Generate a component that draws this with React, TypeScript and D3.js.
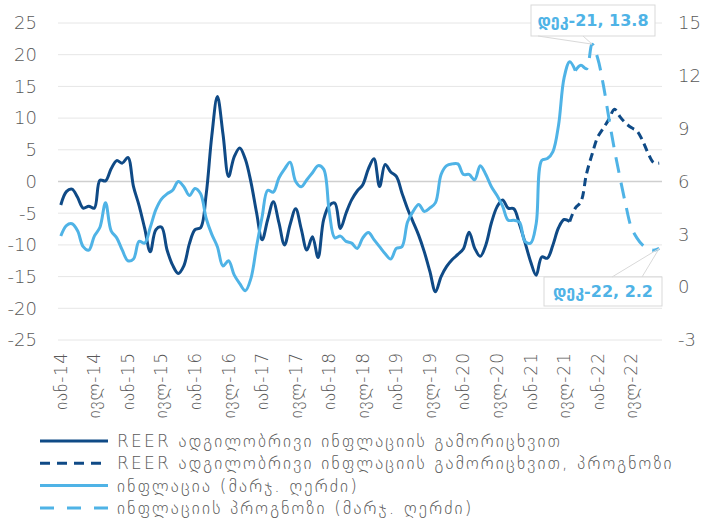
import React from 'react';
import * as d3 from 'd3';

const width = 706;
const height = 521;

const monthNames = ['იან', 'თებ', 'მარ', 'აპრ', 'მაი', 'ივნ', 'ივლ', 'აგვ', 'სექ', 'ოქტ', 'ნოე', 'დეკ'];
const years = [14, 15, 16, 17, 18, 19, 20, 21, 22];
const categories = years.flatMap((y) => monthNames.map((m) => `${m}-${y}`));

// REER, excluding local inflation (left axis), Jan-14 .. Aug-21
const reerActual = [
  -3.7, -1.6, -1.2, -2.5, -4.2, -3.9, -4.2, 0.2, 0.1, 2.0,
  3.3, 2.9, 3.8, -0.8, -3.8, -7.4, -11.1, -7.6, -7.2, -10.8,
  -13.2, -14.5, -13.3, -9.8, -7.6, -7.3, -2.0, 7.2, 13.4, 7.5,
  0.8, 3.9, 5.3, 3.5, -0.1, -4.9, -9.2, -6.0, -3.2, -6.5,
  -10.0, -6.8, -4.3, -7.5, -10.8, -8.7, -12.0, -6.0, -3.8, -3.4,
  -7.4, -5.0, -2.9, -1.5, -0.5, 2.0, 3.6, -0.8, 2.7, 1.5,
  0.8, -1.8, -4.3, -6.4, -8.5, -11.1, -14.2, -17.4, -15.0, -13.4,
  -12.3, -11.5, -10.6, -8.0, -10.5, -11.8, -10.0, -6.5, -4.0, -2.9,
  -4.2, -4.3, -6.7, -9.6, -12.6, -14.8, -11.9, -12.1, -10.0, -7.3,
  -6.0, -6.3,
];
// REER forecast, Aug-21 .. Dec-22
const reerForecast = [
  -6.3, -4.2, -3.2, 1.2, 4.3, 7.0, 8.4, 9.8, 11.4, 10.2,
  9.2, 8.5, 8.0, 6.5, 4.5, 3.0, 2.9,
];
// inflation (right axis), Jan-14 .. Sep-21
const inflActual = [
  2.9, 3.5, 3.6, 3.2, 2.3, 2.1, 2.9, 3.4, 4.8, 3.2,
  2.8, 2.1, 1.5, 1.6, 2.6, 2.5, 3.4, 4.4, 5.0, 5.3,
  5.5, 6.0, 5.7, 5.2, 5.6, 5.3, 3.9, 3.0, 2.3, 1.2,
  1.5, 0.7, 0.2, -0.2, 0.5, 2.3, 4.0, 5.5, 5.4, 6.2,
  6.7, 7.1, 6.0, 5.7, 6.1, 6.5, 6.9, 6.7, 4.3, 2.8,
  2.9, 2.6, 2.5, 2.2, 2.8, 3.1, 2.7, 2.3, 1.9, 1.6,
  2.2, 2.3, 3.7, 4.3, 4.7, 4.3, 4.5, 4.8, 6.4, 6.9,
  7.0, 7.0, 6.4, 6.4, 6.1, 6.9, 6.4, 5.7, 5.2, 4.6,
  3.8, 3.8, 3.7, 2.6, 2.5, 3.6, 7.2, 7.3, 7.7, 9.2,
  11.9, 12.8, 12.3,
];
// inflation forecast, Sep-21 .. Dec-22
const inflForecast = [
  12.3, 12.6, 12.4, 13.8, 13.0, 11.5, 9.6, 7.8, 6.2, 4.7,
  3.4, 2.8, 2.4, 2.2, 2.1, 2.2,
];

const leftTicks = [25, 20, 15, 10, 5, 0, -5, -10, -15, -20, -25];
const rightTicks = [15, 12, 9, 6, 3, 0, -3];
const legendLabels = [
  'REER ადგილობრივი ინფლაციის გამორიცხვით',
  'REER ადგილობრივი ინფლაციის გამორიცხვით, პროგნოზი',
  'ინფლაცია (მარჯ. ღერძი)',
  'ინფლაციის პროგნოზი (მარჯ. ღერძი)',
];
const callouts = [
  { cat: 'დეკ-21', value: 13.8 },
  { cat: 'დეკ-22', value: 2.2 },
];

const darkBlue = '#0f4a86';
const lightBlue = '#4fb3e6';
const textGray = '#595959';
const font = "'DejaVu Sans', sans-serif";

export default function App() {
  const x = d3.scaleBand<string>().domain(categories).range([58, 662]);
  const cx = (i: number) => (x(categories[i]) as number) + x.bandwidth() / 2;
  const yL = d3.scaleLinear().domain([-25, 25]).range([340, 23]);
  const yR = d3.scaleLinear().domain([-3, 15]).range([340, 23]);

  const lineFor = (scale: d3.ScaleLinear<number, number>, offset: number) =>
    d3
      .line<number>()
      .x((_, i) => cx(i + offset))
      .y((d) => scale(d))
      .curve(d3.curveCatmullRom.alpha(0.5));

  const reerStart = categories.indexOf('აგვ-21');
  const inflStart = categories.indexOf('სექ-21');

  const series = [
    { d: lineFor(yL, 0)(reerActual), color: darkBlue, dash: undefined },
    { d: lineFor(yL, reerStart)(reerForecast), color: darkBlue, dash: '8,5' },
    { d: lineFor(yR, 0)(inflActual), color: lightBlue, dash: undefined },
    { d: lineFor(yR, inflStart)(inflForecast), color: lightBlue, dash: '16,10' },
  ];
  const legendDash = [undefined, '10,7', undefined, '14,13'];
  const legendColor = [darkBlue, darkBlue, lightBlue, lightBlue];

  const xLabels = categories
    .map((c, i) => ({ c, i }))
    .filter(({ c }) => c.startsWith('იან') || c.startsWith('ივლ'));

  // callout boxes with a wedge pointing at the labelled value
  const boxes = [
    { x: 531, y: 5, w: 124, h: 31, b1: 538, b2: 583, top: false },
    { x: 544, y: 277, w: 118, h: 29, b1: 612, b2: 642, top: true },
  ];

  return (
    <svg
      width={width}
      height={height}
      style={{ position: 'absolute', left: 0, top: 0, background: '#fff' }}
      fontFamily={font}
    >
      {leftTicks.map((t) => (
        <line
          key={'g' + t}
          x1={58}
          x2={662}
          y1={yL(t)}
          y2={yL(t)}
          stroke={t === 0 ? '#cfcfcf' : '#e6e6e6'}
          strokeWidth={t === 0 ? 1.5 : 1}
        />
      ))}
      {leftTicks.map((t) => (
        <text key={'l' + t} x={37} y={yL(t)} dy="0.35em" textAnchor="end" fontSize={18} fill={textGray} fontWeight={300}>
          {t}
        </text>
      ))}
      {rightTicks.map((t) => (
        <text key={'r' + t} x={678} y={yR(t)} dy="0.35em" textAnchor="start" fontSize={18} fill={textGray} fontWeight={300}>
          {t}
        </text>
      ))}
      {xLabels.map(({ c, i }) => (
        <text
          key={c}
          transform={`translate(${cx(i)},352) rotate(-90)`}
          dy="0.35em"
          textAnchor="end"
          fontSize={17}
          letterSpacing={1}
          fill={textGray}
          fontWeight={300}
        >
          {c}
        </text>
      ))}
      {series.map((s, k) => (
        <path
          key={k}
          d={s.d || ''}
          fill="none"
          stroke={s.color}
          strokeWidth={3}
          strokeDasharray={s.dash}
          strokeLinejoin="round"
        />
      ))}
      {boxes.map((b, k) => {
        const i = categories.indexOf(callouts[k].cat);
        const px = cx(i);
        const py = yR(callouts[k].value);
        const edge = b.top ? b.y : b.y + b.h;
        return (
          <g key={'c' + k}>
            <rect x={b.x} y={b.y} width={b.w} height={b.h} fill="#fff" stroke="#d9d9d9" />
            <polyline points={`${b.b1},${edge} ${px},${py} ${b.b2},${edge}`} fill="none" stroke="#d9d9d9" />
            <text
              x={b.x + b.w / 2}
              y={b.y + b.h / 2}
              dy="0.35em"
              textAnchor="middle"
              fontSize={16}
              fontWeight="bold"
              fill={lightBlue}
            >
              {`${callouts[k].cat}, ${callouts[k].value}`}
            </text>
          </g>
        );
      })}
      {legendLabels.map((l, k) => {
        const ly = 441 + k * 22.3;
        return (
          <g key={'lg' + k}>
            <line x1={40} x2={108} y1={ly} y2={ly} stroke={legendColor[k]} strokeWidth={3} strokeDasharray={legendDash[k]} />
            <text x={117} y={ly} dy="0.35em" fontSize={17} letterSpacing={2.2} fill={textGray} fontWeight={300}>
              {l}
            </text>
          </g>
        );
      })}
    </svg>
  );
}
